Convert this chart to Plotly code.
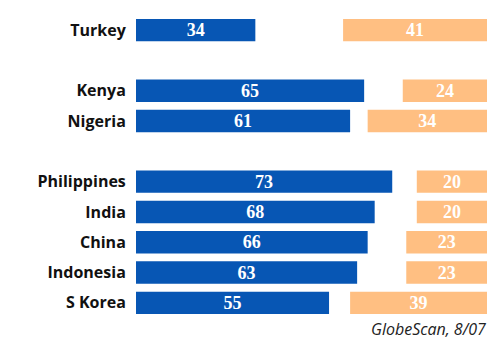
import plotly.graph_objects as go

countries = ["Turkey", "Kenya", "Nigeria", "Philippines", "India", "China", "Indonesia", "S Korea"]
groups = [1, 2, 2, 3, 3, 3, 3, 3]
blue_values = [34, 65, 61, 73, 68, 66, 63, 55]
orange_values = [41, 24, 34, 20, 20, 23, 23, 39]
source_note = "GlobeScan, 8/07"

BLUE = "#0756B4"
ORANGE = "#FFBF82"
SCALE_MAX = 100

# row positions: one blank row between groups
ypos = [i + (g - 1) for i, g in enumerate(groups)]

fig = go.Figure()
fig.add_trace(go.Bar(
    y=ypos, x=blue_values, base=[0] * len(blue_values), orientation="h",
    marker=dict(color=BLUE, line=dict(width=0)), width=0.74,
    text=[str(v) for v in blue_values], textposition="inside",
    insidetextanchor="middle", textangle=0, constraintext="none",
    textfont=dict(family="Liberation Serif", size=18, color="white", weight="bold"),
    hoverinfo="skip", showlegend=False,
))
fig.add_trace(go.Bar(
    y=ypos, x=orange_values, base=[SCALE_MAX - v for v in orange_values], orientation="h",
    marker=dict(color=ORANGE, line=dict(width=0)), width=0.74,
    text=[str(v) for v in orange_values], textposition="inside",
    insidetextanchor="middle", textangle=0, constraintext="none",
    textfont=dict(family="Liberation Serif", size=18, color="white", weight="bold"),
    hoverinfo="skip", showlegend=False,
))

fig.update_layout(
    width=504, height=356,
    margin=dict(l=136, r=17, t=15, b=38),
    paper_bgcolor="white", plot_bgcolor="white",
    barmode="overlay",
    xaxis=dict(visible=False, range=[0, SCALE_MAX], fixedrange=True),
    yaxis=dict(
        range=[max(ypos) + 0.5, -0.5], tickvals=ypos, ticktext=countries,
        showgrid=False, zeroline=False, showline=False, fixedrange=True,
        ticks="outside", ticklen=6, tickcolor="rgba(0,0,0,0)",
        tickfont=dict(family="Open Sans", size=16, color="#111111", weight="bold"),
    ),
    annotations=[dict(
        text=source_note, xref="paper", yref="paper", x=1.003, y=-0.036,
        xanchor="right", yanchor="middle", showarrow=False,
        font=dict(family="Open Sans", size=16, color="#222222", style="italic"),
    )],
)

fig.write_html("out.html", config={"displayModeBar": False, "staticPlot": True},
               post_script="document.body.style.margin='0px';")
